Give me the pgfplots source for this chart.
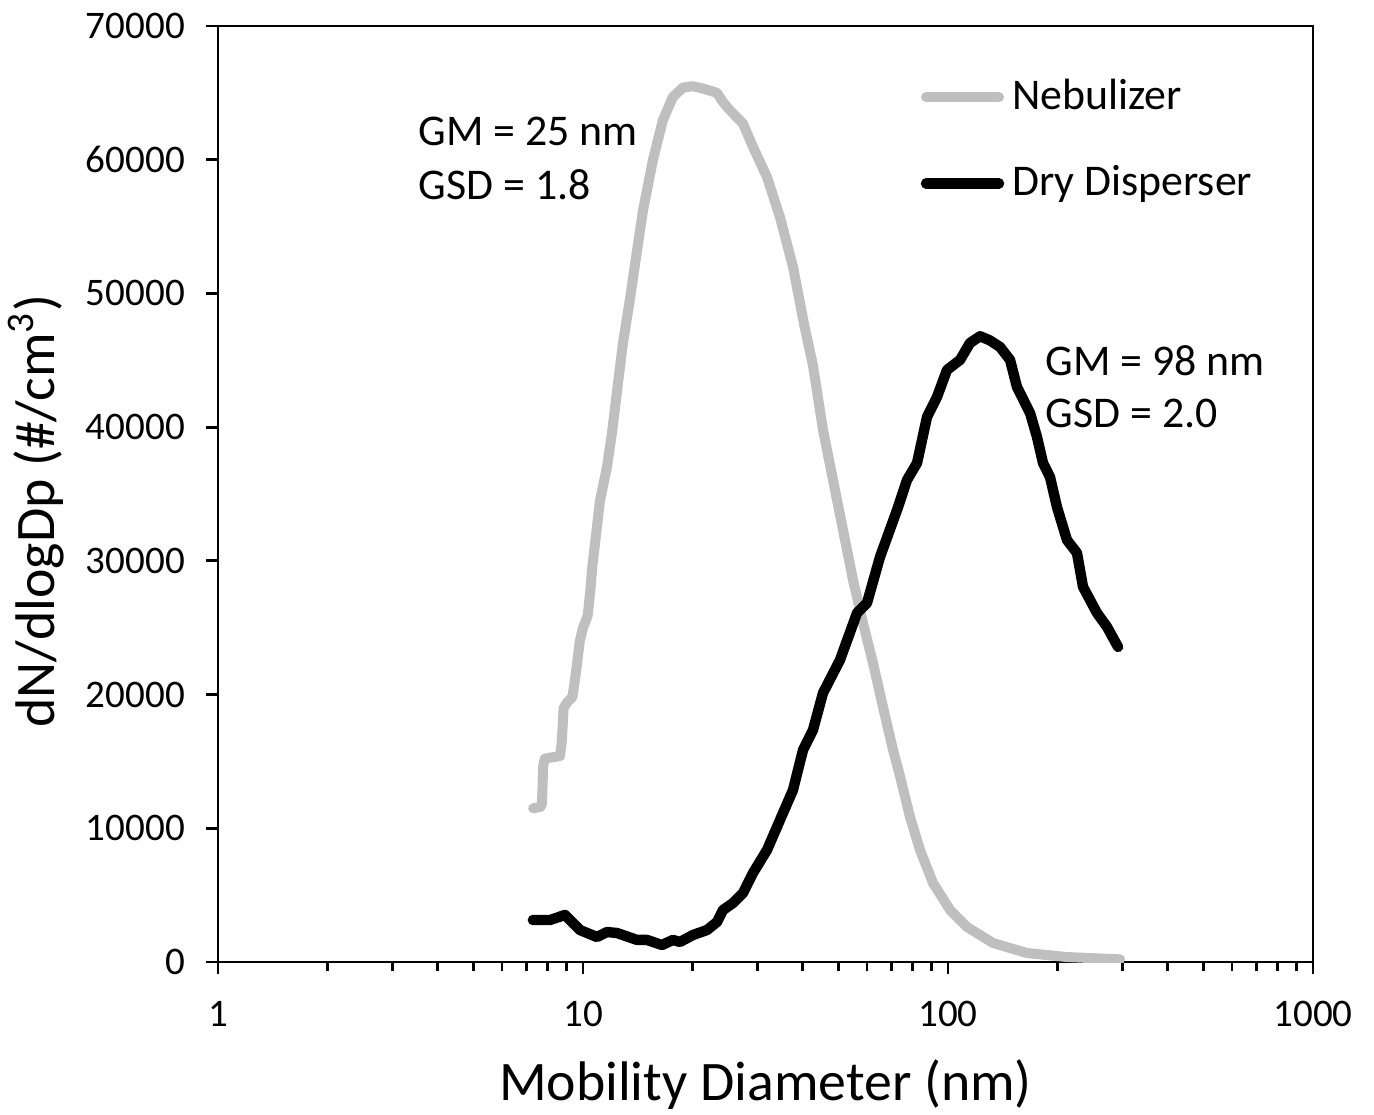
\documentclass[border=0pt]{standalone}
\usepackage{pgfplots}
\pgfplotsset{compat=1.18}
\usepackage{pgfplotstable}
\usepackage{fontspec}
\setmainfont{Carlito}
\definecolor{nebgray}{HTML}{BFBFBF}

\pgfplotstableread{
x y
7.30 11500
7.48 11550
7.65 11600
7.72 11800
7.78 14600
7.85 15200
8.20 15300
8.65 15400
8.75 16500
8.85 19000
9.10 19500
9.35 19800
9.55 21500
9.80 24000
10.0 25000
10.3 25900
10.45 27500
10.6 29500
11.13 34500
11.63 37000
12.01 39600
12.47 43300
12.87 46300
13.45 49600
14.06 53200
14.60 56200
15.55 60000
16.57 63000
17.64 64700
18.8 65400
20.0 65500
21.5 65300
23.29 65000
24.2 64300
25.27 63700
27.44 62700
29.23 60950
31.93 58700
34.65 55700
37.61 52000
40.4 47600
42.67 44600
45.45 39800
48.41 36050
51.57 32300
54.92 28570
58.50 25360
62.31 22360
66.37 19070
70.69 15860
73.88 13900
78.69 10850
83.82 8380
90.97 5910
101.3 3890
112.7 2620
132.9 1420
164.6 670
211.8 370
296.0 200
}\nebulizer

\pgfplotstableread{
x y
7.29 3140
8.12 3140
8.93 3520
9.81 2390
10.92 1870
11.63 2240
12.39 2170
14.06 1650
14.97 1650
16.46 1270
17.64 1650
18.44 1500
20.01 2020
21.86 2390
23.29 2990
24.19 3890
25.76 4410
27.44 5160
29.23 6660
31.93 8380
34.65 10620
37.61 12860
40.07 15860
42.67 17350
45.45 20120
50.59 22590
56.33 26100
59.99 26850
65.12 30290
72.51 33810
77.23 36050
82.26 37320
87.60 40760
93.30 42260
99.38 44280
107.9 45030
114.9 46300
122.4 46800
130.0 46500
138.8 46000
147.9 45030
154.5 43010
167.8 41060
175.3 39270
182.1 37320
190.3 36280
198.9 34030
211.8 31560
225.6 30590
234.4 28050
256.0 26100
272.7 25060
292.4 23560
}\dry

\begin{document}
\begin{tikzpicture}
\begin{axis}[
  scale only axis,
  width=273.75bp, height=234bp,
  xmode=log, xmin=1, xmax=1000,
  ymin=0, ymax=70000,
  xtick={1,10,100,1000}, xticklabels={1,10,100,1000},
  ytick={0,10000,20000,30000,40000,50000,60000,70000},
  scaled y ticks=false,
  yticklabel style={/pgf/number format/fixed,/pgf/number format/1000 sep={}, xshift=-1.75bp},
  xticklabel style={yshift=-3.25bp},
  /pgf/number format/assume math mode=true,
  tick align=outside, tick pos=left,
  major tick length=3bp, minor tick length=2.3bp,
  axis line style={line width=0.7bp},
  every tick/.style={black, line width=0.7bp},
  ticklabel style={font=\fontsize{9.8}{11}\selectfont},
  xlabel={Mobility Diameter (nm)},
  ylabel={dN/dlogDp (\#/cm\textsuperscript{3})},
  xlabel style={font=\fontsize{14}{16}\selectfont, at={(axis description cs:0.5,0)}, anchor=center, yshift=-30.75bp},
  ylabel style={font=\fontsize{14}{16}\selectfont, at={(axis description cs:-0.1660,0.4818)}, anchor=center},
  legend style={draw=none, fill=none, at={(axis description cs:0.6411,0.878)}, anchor=west,
    font=\fontsize{11}{13}\selectfont, row sep=8.5bp, inner sep=0pt},
  legend cell align=left,
  legend image code/.code={\draw[#1] (0bp,0bp) -- (18.25bp,0bp);},
]
\addplot[nebgray, line width=2.5bp, line cap=round, line join=round] table[x=x,y=y] {\nebulizer};
\addlegendentry{Nebulizer}
\addplot[black, line width=2.6bp, line cap=round, line join=round] table[x=x,y=y] {\dry};
\addlegendentry{Dry Disperser}
\node[anchor=west, inner sep=0pt, font=\fontsize{11}{13}\selectfont] at (axis cs:3.53,62150) {GM = 25 nm};
\node[anchor=west, inner sep=0pt, font=\fontsize{11}{13}\selectfont] at (axis cs:3.53,58110) {GSD = 1.8};
\node[anchor=west, inner sep=0pt, font=\fontsize{11}{13}\selectfont] at (axis cs:184.4,44950) {GM = 98 nm};
\node[anchor=west, inner sep=0pt, font=\fontsize{11}{13}\selectfont] at (axis cs:184.4,40990) {GSD = 2.0};
\end{axis}
\pgfresetboundingbox
\useasboundingbox ([shift={(-54.5bp,-38.25bp)}]current axis.south west) rectangle ++(343.5bp,278.75bp);
\end{tikzpicture}
\end{document}
